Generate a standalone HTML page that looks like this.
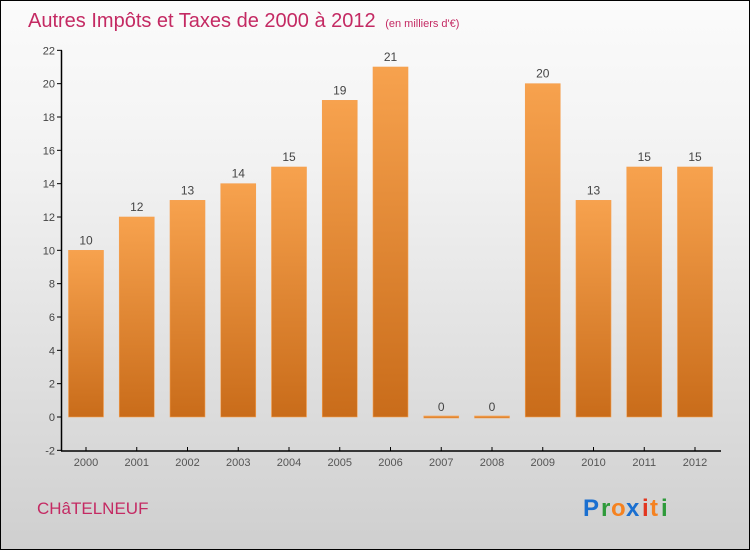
<!DOCTYPE html>
<html><head><meta charset="utf-8"><style>
html,body{margin:0;padding:0}
body{width:750px;height:550px;overflow:hidden;font-family:"Liberation Sans",sans-serif}
#wrap{position:relative;width:748px;height:548px;border:1px solid #000;background:linear-gradient(#fbfbfb,#f2f2f2 30%,#cfcfcf)}
</style></head><body>
<div id="wrap">
<svg id="chart" width="748" height="548" style="position:absolute;left:0;top:0">
<defs><linearGradient id="bg" x1="0" y1="0" x2="0" y2="1"><stop offset="0" stop-color="#f7a24e"/><stop offset="1" stop-color="#c96c1a"/></linearGradient></defs>
<text x="27" y="26" font-size="20" fill="#c42a63">Autres Impôts et Taxes de 2000 à 2012 <tspan font-size="11" dx="4">(en milliers d'€)</tspan></text>
<text x="36" y="513" font-size="17" fill="#c42a63">CHâTELNEUF</text>
<g font-size="24" font-weight="bold" font-family="Liberation Sans,sans-serif">
<text x="582" y="515" fill="#1a6fd0">P</text><text x="600" y="515" fill="#2e9a3a">r</text><text x="610" y="515" fill="#f58220">o</text><text x="625" y="515" fill="#1a6fd0">x</text><text x="641" y="515" fill="#e2361f">i</text><text x="649" y="515" fill="#f58220">t</text><text x="660" y="515" fill="#2e9a3a">i</text></g>
<g id="plot"></g>
</svg>
</div>
<script>
const years=["2000","2001","2002","2003","2004","2005","2006","2007","2008","2009","2010","2011","2012"];
const values=[10,12,13,14,15,19,21,0,0,20,13,15,15];
const yTicks=[-2,0,2,4,6,8,10,12,14,16,18,20,22];
const NS="http://www.w3.org/2000/svg";
const g=document.getElementById('plot');
const y=v=>417-v*(400/24)-1;
const x=i=>85+i*50.75;
function mk(t,a){const e=document.createElementNS(NS,t);for(const k in a)e.setAttribute(k,a[k]);g.appendChild(e);return e;}
yTicks.forEach(t=>{
 const l=mk('line',{x1:56,x2:61,y1:y(t),y2:y(t),stroke:'#000'});
 
 
 const tx=mk('text',{x:54,y:y(t)+4,'font-size':11,'text-anchor':'end',fill:'#444'});
 tx.textContent=t;
 
 
});
years.forEach((yr,i)=>{
 const v=values[i];
 const top=y(v),z=y(0);
 const b=mk('rect',{x:x(i)-17.5,y:Math.min(top,z)-(v===0?1:0),width:35,height:Math.max(Math.abs(z-top),2),fill:'url(#bg)',stroke:'#f5a050','stroke-width':0.6});
 
 
 const vl=mk('text',{x:x(i),y:top-6,'font-size':12,'text-anchor':'middle',fill:'#444'});
 vl.textContent=v;
 
 
 const tk=mk('line',{x1:x(i),x2:x(i),y1:446,y2:450,stroke:'#000'});
 
 
 const xl=mk('text',{x:x(i),y:465,'font-size':11,'text-anchor':'middle',fill:'#555'});
 xl.textContent=yr;
 
 
});
const ya=mk('line',{x1:60.5,x2:60.5,y1:y(22),y2:450,stroke:'#000','stroke-width':1.5});


const xa=mk('line',{x1:60,x2:720,y1:450,y2:450,stroke:'#000','stroke-width':1.5});


</script>
</body></html>
